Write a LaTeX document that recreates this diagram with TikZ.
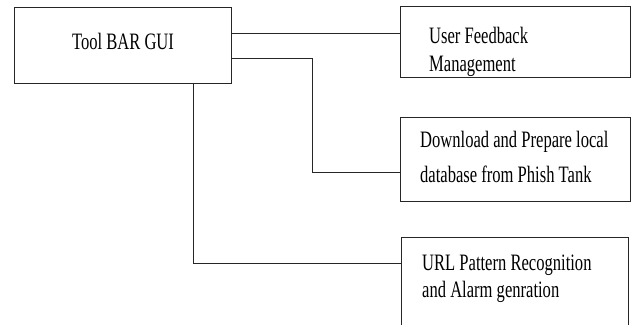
\documentclass[tikz,border=0pt]{standalone}
\usepackage{fontspec}
\setmainfont[FakeStretch=0.705]{Liberation Serif}
\begin{document}
\begin{tikzpicture}[x=1pt,y=-1pt,
  box/.style={draw=black!85, line width=0.9pt, inner sep=0pt, anchor=north west},
  lbl/.style={anchor=base west, inner sep=0pt, text=black, font=\fontsize{23.5}{27}\selectfont},
  conn/.style={draw=black!85, line width=0.9pt}]
\useasboundingbox (0,0) rectangle (634,324);
\clip (0,0) rectangle (634,324);
% boxes
\node[box, minimum width=217pt, minimum height=76pt] (gui) at (14,7) {};
\node[box, minimum width=230pt, minimum height=71pt] (fb) at (400,6) {};
\node[box, minimum width=230pt, minimum height=84pt] (db) at (400,117) {};
\node[box, minimum width=227pt, minimum height=110pt] (url) at (401,237) {};
% labels
\node[lbl, anchor=base] (tgui) at (123,49) {Tool BAR GUI};
\node[lbl] (tfb1) at (429,43) {User Feedback};
\node[lbl] (tfb2) at (429,71) {Management};
\node[lbl] (tdb1) at (420,147) {Download and Prepare local};
\node[lbl] (tdb2) at (420,182) {database from Phish Tank};
\node[lbl] (turl1) at (422,270) {URL Pattern Recognition};
\node[lbl] (turl2) at (422,297) {and Alarm genration};
% connectors
\coordinate (j1) at (312,58);
\draw[conn] (gui.east |- 0,33) -- (fb.west |- 0,33);
\draw[conn] (gui.east |- j1) -- (j1) |- (db.west |- 0,172);
\draw[conn] (gui.south -| 193,0) |- (url.west |- 0,263);
\end{tikzpicture}
\end{document}
